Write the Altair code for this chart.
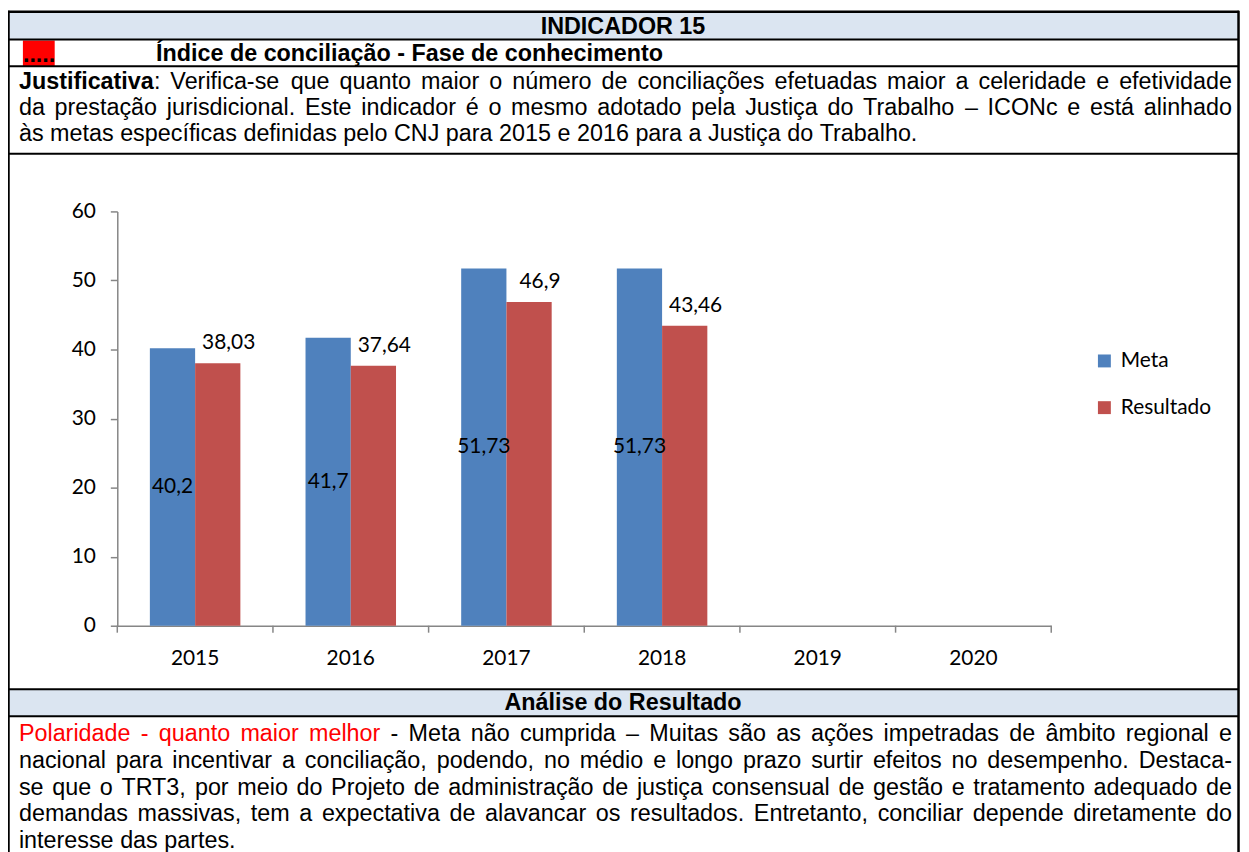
import unicodedata
import altair as alt
import pandas as pd

# ---------------- data ----------------
years = ["2015", "2016", "2017", "2018", "2019", "2020"]
series_names = ["Meta", "Resultado"]
meta_values = [40.2, 41.7, 51.73, 51.73]
resultado_values = [38.03, 37.64, 46.9, 43.46]
meta_labels = ["40,2", "41,7", "51,73", "51,73"]
resultado_labels = ["38,03", "37,64", "46,9", "43,46"]
y_tick_values = [0, 10, 20, 30, 40, 50, 60]

header_title = "INDICADOR 15"
marker_text = "....."
indicator_name = "Índice de conciliação - Fase de conhecimento"
justificativa_lines = [
    "*Justificativa*: Verifica-se que quanto maior o número de conciliações efetuadas maior a celeridade e efetividade",
    "da prestação jurisdicional. Este indicador é o mesmo adotado pela Justiça do Trabalho – ICONc e está alinhado",
    "às metas específicas definidas pelo CNJ para 2015 e 2016 para a Justiça do Trabalho.",
]
analysis_title = "Análise do Resultado"
analysis_lines = [
    "^Polaridade - quanto maior melhor^ - Meta não cumprida – Muitas são as ações impetradas de âmbito regional e",
    "nacional para incentivar a conciliação, podendo, no médio e longo prazo surtir efeitos no desempenho. Destaca-",
    "se que o TRT3, por meio do Projeto de administração de justiça consensual de gestão e tratamento adequado de",
    "demandas massivas, tem a expectativa de alavancar os resultados. Entretanto, conciliar depende diretamente do",
    "interesse das partes.",
]

# ---------------- styles / layout ----------------
BLUE, RED, GRAY = "#4f81bd", "#c0504d", "#868686"
BAND = "#dbe5f1"
DOC_FONT = "Liberation Sans"
CHART_FONT = "Lato"
F = 23.5          # document text size
CF = 21           # chart text size
OX, OY = 118, 210  # page position of plot origin
PW, PH = 940, 417  # plot size
X0, X1 = 19, 1240  # text column


def px(x):
    return x - OX


def py(y):
    return y - OY


# Arial / Liberation Sans advance widths (1/1000 em)
REG, BOLD = {}, {}


def put(table, chars, w):
    for c in chars:
        table[c] = w


put(REG, "abdeghnopqu", 556); put(REG, "cksvxyz", 500); put(REG, "ft", 278)
put(REG, "ijl", 222); put(REG, "m", 833); put(REG, "r", 333); put(REG, "w", 722)
put(REG, "ABEKPSVXY", 667); put(REG, "CDHNRU", 722); put(REG, "FTZ", 611)
put(REG, "GOQ", 778); put(REG, "I", 278); put(REG, "J", 500); put(REG, "L", 556)
put(REG, "M", 833); put(REG, "W", 944); put(REG, "0123456789", 556)
put(REG, " .,:", 278); put(REG, "-", 333); put(REG, "–", 556)
BOLD.update(REG)
put(BOLD, "aces", 556); put(BOLD, "bdghnopqu", 611); put(BOLD, "ft", 333)
put(BOLD, "ijl", 278); put(BOLD, "kvxy", 556); put(BOLD, "m", 889); put(BOLD, "r", 389)
put(BOLD, "w", 778); put(BOLD, "z", 500); put(BOLD, "J", 556); put(BOLD, ":", 333)


def char_w(ch, bold):
    t = BOLD if bold else REG
    if ch in t:
        return t[ch]
    base = unicodedata.normalize("NFD", ch)[0]
    if base == "i":
        return 278
    return t.get(base, 556)


def text_w(s, style):
    return sum(char_w(c, style == "bold") for c in s) / 1000.0 * F


def parse_line(line):
    words, bold, red = [], False, False
    for raw in line.split(" "):
        runs, buf = [], ""
        for ch in raw:
            if ch in "*^":
                if buf:
                    runs.append((buf, "bold" if bold else ("red" if red else "reg")))
                    buf = ""
                if ch == "*":
                    bold = not bold
                else:
                    red = not red
            else:
                buf += ch
        if buf:
            runs.append((buf, "bold" if bold else ("red" if red else "reg")))
        words.append(runs)
    return words


def layout(lines, baselines):
    rows = []
    for li, line in enumerate(lines):
        words = parse_line(line)
        widths = [sum(text_w(t, st) for t, st in w) for w in words]
        gap = 278 / 1000.0 * F
        nat = sum(widths) + gap * (len(words) - 1)
        if li < len(lines) - 1 and len(words) > 1:
            gap += (X1 - X0 - nat) / (len(words) - 1)
        x = X0
        for w, wd in zip(words, widths):
            xx = x
            for t, st in w:
                rows.append({"x": px(xx), "y": py(baselines[li]), "t": t, "st": st,
                             "c": "#ff0000" if st == "red" else "#000000"})
                xx += text_w(t, st)
            x += wd + gap
    return pd.DataFrame(rows)


words_df = pd.concat([
    layout(justificativa_lines, [87, 113, 139]),
    layout(analysis_lines, [743, 770, 797, 824, 851]),
], ignore_index=True)

one = pd.DataFrame({"k": [0]})


def rect(x1, x2, y1, y2, color):
    return alt.Chart(one).mark_rect(color=color).encode(
        x=alt.value(px(x1)), x2=alt.value(px(x2)), y=alt.value(py(y1)), y2=alt.value(py(y2)))


def hline(y, x1=8, x2=1247, w=2):
    return alt.Chart(one).mark_rule(color="black", strokeWidth=w).encode(
        x=alt.value(px(x1)), x2=alt.value(px(x2)), y=alt.value(py(y)))


def vline(x, y1=8, y2=860, w=2.5):
    return alt.Chart(one).mark_rule(color="black", strokeWidth=w).encode(
        x=alt.value(px(x)), y=alt.value(py(y1)), y2=alt.value(py(y2)))


def label(text, x, y, align="left", bold=True, color="black"):
    return alt.Chart(one).mark_text(
        font=DOC_FONT, fontSize=F, fontWeight="bold" if bold else "normal",
        align=align, baseline="alphabetic", color=color
    ).encode(x=alt.value(px(x)), y=alt.value(py(y)), text=alt.value(text))


decor = [
    rect(8, 1247, 9, 37, BAND),
    rect(8, 1247, 691, 718, BAND),
    rect(23, 55, 38, 64, "#ff0000"),
    hline(9, w=2.5), hline(37), hline(64), hline(152), hline(691), hline(718),
    vline(8.5), vline(1246.5),
    label(header_title, 627, 31, align="center"),
    label(marker_text, 23, 60),
    label(indicator_name, 157, 59),
    label(analysis_title, 627, 712, align="center"),
]

text_base = alt.Chart(words_df)
xs = alt.X("x:Q", scale=None)
ys = alt.Y("y:Q", scale=None)
body_reg = text_base.transform_filter("datum.st != 'bold'").mark_text(
    font=DOC_FONT, fontSize=F, align="left", baseline="alphabetic"
).encode(x=xs, y=ys, text="t:N", color=alt.Color("c:N", scale=None))
body_bold = text_base.transform_filter("datum.st == 'bold'").mark_text(
    font=DOC_FONT, fontSize=F, fontWeight="bold", align="left", baseline="alphabetic", color="black"
).encode(x=xs, y=ys, text="t:N")

# ---------------- chart ----------------
rows = []
for i in range(len(meta_values)):
    rows.append({"year": years[i], "series": "Meta", "value": meta_values[i], "lab": meta_labels[i]})
    rows.append({"year": years[i], "series": "Resultado", "value": resultado_values[i], "lab": resultado_labels[i]})
df = pd.DataFrame(rows)

xscale = alt.Scale(domain=years, paddingInner=0, paddingOuter=0)
yscale = alt.Scale(domain=[0, 60], nice=False)
x_axis = alt.Axis(
    title=None, labelAngle=0, ticks=False, tickSize=0, domainColor=GRAY, domainWidth=1.5,
    labelFont=CHART_FONT, labelFontSize=CF, labelColor="#000", labelPadding=22)
y_axis = alt.Axis(
    title=None, values=y_tick_values, grid=False, tickSize=7, tickColor=GRAY, tickWidth=1.5,
    domainColor=GRAY, domainWidth=1.5, labelFont=CHART_FONT, labelFontSize=CF,
    labelColor="#000", labelPadding=15)


def xenc(**kw):
    return alt.X("year:N", sort=years, scale=xscale, axis=x_axis, **kw)


def offenc():
    return alt.XOffset("series:N", scale=alt.Scale(domain=series_names, paddingInner=0, paddingOuter=0.72))


def yenc(field):
    return alt.Y(field, scale=yscale, axis=y_axis)


bars = alt.Chart(df).mark_bar().encode(
    x=xenc(), xOffset=offenc(), y=yenc("value:Q"),
    color=alt.Color("series:N", scale=alt.Scale(domain=series_names, range=[BLUE, RED]),
                    legend=alt.Legend(orient="none", legendX=983, legendY=140, title=None,
                                      direction="vertical", symbolType="square", symbolSize=169,
                                      symbolStrokeWidth=0, symbolOpacity=1, labelFont=CHART_FONT,
                                      labelFontSize=CF, labelColor="#000", labelOffset=6,
                                      rowPadding=25, padding=0)),
)

meta_text = alt.Chart(df).transform_filter("datum.series == 'Meta'").transform_calculate(
    half="datum.value / 2").mark_text(
    font=CHART_FONT, fontSize=CF, color="black", align="center", baseline="middle"
).encode(x=xenc(), xOffset=offenc(), y=yenc("half:Q"), text="lab:N")

res_text = alt.Chart(df).transform_filter("datum.series == 'Resultado'").mark_text(
    font=CHART_FONT, fontSize=CF, color="black", align="center", baseline="middle", dx=11, dy=-20
).encode(x=xenc(), xOffset=offenc(), y=yenc("value:Q"), text="lab:N")

ticks_df = pd.DataFrame({"year": years})
xticks = alt.Chart(ticks_df).mark_rule(color=GRAY, strokeWidth=1.5).encode(
    x=xenc(bandPosition=0), y=alt.value(PH), y2=alt.value(PH + 7))
last_tick = alt.Chart(one).mark_rule(color=GRAY, strokeWidth=1.5).encode(
    x=alt.value(PW), y=alt.value(PH), y2=alt.value(PH + 7))

chart = alt.layer(
    *decor, body_reg, body_bold, bars, meta_text, res_text, xticks, last_tick
).properties(
    width=PW, height=PH,
    padding={"left": OX - 8, "top": OY - 8, "right": 1241 - (OX - 8) - PW, "bottom": 844 - (OY - 8) - PH},
    autosize=alt.AutoSizeParams(type="none"),
    background="white",
).configure_view(stroke=None)

chart.save("out.html", embed_options={"renderer": "svg", "actions": False})
